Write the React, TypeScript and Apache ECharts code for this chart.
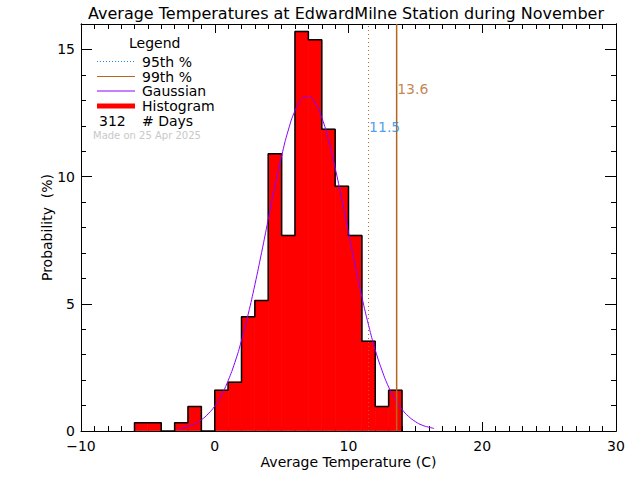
import React, { useEffect, useRef } from "react";
import * as echarts from "echarts";

const titleText = "Average Temperatures at EdwardMilne Station during November";
const xTitle = "Average Temperature (C)";
const yTitle = "Probability  (%)";

// Histogram bins (lower edges, width 1 C) and probabilities (%)
const binStarts = [-6, -5, -4, -3, -2, -1, 0, 1, 2, 3, 4, 5, 6, 7, 8, 9, 10, 11, 12, 13];
const binPercent = [0.32, 0.32, 0, 0.32, 0.96, 0, 1.6, 1.92, 4.49, 5.13, 10.9, 7.69, 15.71, 15.38, 11.86, 9.62, 7.69, 3.53, 0.96, 1.6];
const binWidth = 1;

// Gaussian fit curve
const gaussX = [-2.7, -2, -1.5, -1, -0.5, 0, 0.5, 1, 1.5, 2, 2.5, 3, 3.5, 4, 4.5, 5, 5.5, 6, 6.5, 7, 7.5, 8, 8.5, 9, 9.5, 10, 10.5, 11, 11.5, 12, 12.5, 13, 13.5, 14, 14.5, 15, 15.5, 16, 16.4];
const gaussY = [0.09, 0.18, 0.28, 0.44, 0.67, 0.98, 1.41, 1.98, 2.69, 3.56, 4.59, 5.75, 7.01, 8.32, 9.62, 10.81, 11.83, 12.59, 13.05, 13.15, 12.9, 12.32, 11.45, 10.35, 9.11, 7.8, 6.5, 5.27, 4.16, 3.19, 2.39, 1.73, 1.23, 0.85, 0.57, 0.37, 0.23, 0.15, 0.1];

// Percentiles
const p95 = 11.5;
const p99 = 13.6;
const p95LabelY = 11.94;
const p99LabelY = 13.44;

const nDays = 312;
const madeOn = "Made on 25 Apr 2025";

const xMin = -10;
const xMax = 30;
const yMin = 0;
const yMax = 16;

const BROWN = "#b4661f";
const BLUE = "#1e88e8";
const PURPLE = "#8a00ff";
const FONT = "DejaVu Sans";

export default function App() {
  const ref = useRef<HTMLDivElement>(null);

  useEffect(() => {
    document.body.style.margin = "0";
    if (!ref.current) return;
    const chart = echarts.init(ref.current, null, { renderer: "svg" });

    const histData = binStarts.map((s, i) => [s, s + binWidth, binPercent[i]]);
    const outline: number[][] = [[binStarts[0], 0]];
    binStarts.forEach((s, i) => {
      outline.push([s, binPercent[i]]);
      outline.push([s + binWidth, binPercent[i]]);
    });
    outline.push([binStarts[binStarts.length - 1] + binWidth, 0]);
    const gauss = gaussX.map((x, i) => [x, gaussY[i]]);

    const axisLine = { show: true, onZero: false, lineStyle: { color: "#000", width: 1 } };
    const xBase = (position: string, showLabel: boolean) => ({
      type: "value",
      position,
      min: xMin,
      max: xMax,
      interval: 10,
      axisLine,
      axisTick: { show: true, inside: true, length: 9, lineStyle: { color: "#000" } },
      minorTick: { show: true, splitNumber: 10, length: 5, lineStyle: { color: "#000" } },
      splitLine: { show: false },
      axisLabel: {
        show: showLabel,
        color: "#000",
        fontFamily: FONT,
        fontSize: 14,
        margin: 8,
        formatter: (v: number) => (v < 0 ? "\u2212" + Math.abs(v) : String(v)),
      },
    });
    const yBase = (position: string, major: boolean, showLabel: boolean) => ({
      type: "value",
      position,
      min: yMin,
      max: yMax,
      interval: major ? 5 : 1,
      axisLine,
      axisTick: { show: true, inside: true, length: major ? 11 : 5, lineStyle: { color: "#000" } },
      splitLine: { show: false },
      axisLabel: {
        show: showLabel,
        color: "#000",
        fontFamily: FONT,
        fontSize: 14,
        margin: 6,
        formatter: (v: number) => (v % 5 === 0 ? String(v) : ""),
      },
    });

    const legendX = 97;
    const legendTextX = 142;
    const rows = [
      { y: 61.5, label: "95th %" },
      { y: 76.5, label: "99th %" },
      { y: 91, label: "Gaussian" },
      { y: 106, label: "Histogram" },
    ];
    const txt = (x: number, y: number, text: string, extra: any = {}) => ({
      type: "text",
      x,
      y,
      style: {
        text,
        fill: "#000",
        font: `14px "${FONT}"`,
        textVerticalAlign: "middle",
        ...extra,
      },
    });

    const option: any = {
      animation: false,
      backgroundColor: "#fff",
      grid: { left: 81, right: 24, top: 24, bottom: 49, containLabel: false, outerBoundsMode: "none" },
      title: {
        text: titleText,
        left: 83,
        top: 0,
        textStyle: { color: "#000", fontFamily: FONT, fontSize: 16, fontWeight: "normal" },
      },
      xAxis: [
        {
          ...xBase("bottom", true),
          name: xTitle,
          nameLocation: "middle",
          nameGap: 24,
          nameMoveOverlap: false,
          nameTextStyle: { color: "#000", fontFamily: FONT, fontSize: 14 },
        },
        xBase("top", false),
      ],
      yAxis: [
        {
          ...yBase("left", true, true),
          name: yTitle,
          nameLocation: "middle",
          nameRotate: 90,
          nameGap: 27,
          nameMoveOverlap: false,
          nameTextStyle: { color: "#000", fontFamily: FONT, fontSize: 14 },
        },
        yBase("left", false, false),
        yBase("right", true, false),
        yBase("right", false, false),
      ],
      series: [
        {
          type: "custom",
          name: "Histogram",
          xAxisIndex: 0,
          yAxisIndex: 0,
          encode: { x: [0, 1], y: 2 },
          data: histData,
          z: 2,
          renderItem: (params: any, api: any) => {
            if (!(api.value(2) > 0)) return null;
            const p1 = api.coord([api.value(0), api.value(2)]);
            const p2 = api.coord([api.value(1), 0]);
            return {
              type: "rect",
              shape: { x: p1[0], y: p1[1], width: p2[0] - p1[0], height: p2[1] - p1[1] - 0.5 },
              style: { fill: "#ff0000", stroke: "#ff0000", lineWidth: 0.8 },
            };
          },
        },
        {
          type: "line",
          name: "outline",
          data: outline,
          symbol: "none",
          lineStyle: { color: "#000", width: 1.5 },
          z: 3,
        },
        {
          type: "line",
          name: "Gaussian",
          data: gauss,
          smooth: true,
          symbol: "none",
          lineStyle: { color: PURPLE, width: 1 },
          z: 4,
        },
        {
          type: "line",
          name: "95th",
          data: [
            [p95, yMin],
            [p95, yMax],
          ],
          symbol: "none",
          lineStyle: { color: BROWN, width: 1, type: [1, 3] },
          z: 5,
        },
        {
          type: "line",
          name: "99th",
          data: [
            [p99, yMin],
            [p99, yMax],
          ],
          symbol: "none",
          lineStyle: { color: BROWN, width: 1.5 },
          z: 5,
        },
        {
          type: "scatter",
          name: "labels",
          symbolSize: 1,
          itemStyle: { color: "rgba(0,0,0,0)" },
          z: 6,
          data: [
            {
              value: [p95, p95LabelY],
              label: { show: true, position: "right", distance: 0, formatter: String(p95), color: BLUE, fontFamily: FONT, fontSize: 14 },
            },
            {
              value: [p99, p99LabelY],
              label: { show: true, position: "right", distance: 0, formatter: String(p99), color: BROWN, fontFamily: FONT, fontSize: 14 },
            },
          ],
        },
      ],
      graphic: [
        txt(129, 43, "Legend"),
        { type: "line", shape: { x1: legendX, y1: rows[0].y, x2: 135, y2: rows[0].y }, style: { stroke: BLUE, lineWidth: 1, lineDash: [1, 2] } },
        { type: "line", shape: { x1: legendX, y1: rows[1].y, x2: 135, y2: rows[1].y }, style: { stroke: BROWN, lineWidth: 1 } },
        { type: "line", shape: { x1: legendX, y1: rows[2].y, x2: 135, y2: rows[2].y }, style: { stroke: PURPLE, lineWidth: 1 } },
        { type: "rect", shape: { x: legendX, y: rows[3].y - 2.5, width: 38, height: 5 }, style: { fill: "#ff0000" } },
        ...rows.map((r) => txt(legendTextX, r.y, r.label)),
        txt(99, 120.5, String(nDays)),
        txt(legendTextX, 120.5, "# Days"),
        txt(93, 135, madeOn, { fill: "#c8c8c8", font: `10px "${FONT}"` }),
      ],
    };

    chart.setOption(option);
    return () => chart.dispose();
  }, []);

  return <div ref={ref} style={{ width: 640, height: 480 }} />;
}
